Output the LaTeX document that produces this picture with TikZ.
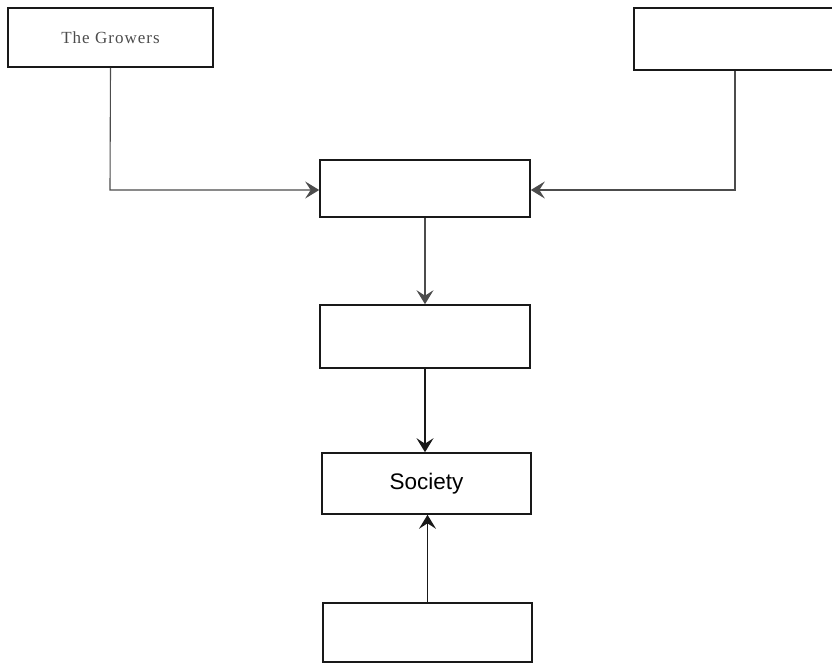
\documentclass[tikz,border=0pt]{standalone}
\usepackage{fontspec}
\setmainfont{Liberation Serif}
\newfontfamily\labelsans{Liberation Sans}
\usetikzlibrary{arrows.meta}
\begin{document}
\begin{tikzpicture}[x=1pt,y=-1pt,
  box/.style={draw=black!90, line width=1.6pt, minimum width=210pt,
    minimum height=58pt, inner sep=0pt},
  flow/.style={draw=black!90, line width=1.4pt,
    -{Stealth[length=14pt,width=17pt,inset=5.5pt]}},
  faint/.style={draw=black!70, line width=1.1pt}]
  \useasboundingbox (0,0) rectangle (832,664);
  \clip (0,0) rectangle (832,664);

  % sources
  \node[box, minimum width=205pt, minimum height=59pt] (growers) at (110.5,37.5)
    {\color{black!70}\fontsize{17}{20}\selectfont\addfontfeatures{LetterSpace=6}The Growers};
  \node[box, minimum width=210pt, minimum height=62pt] (right) at (739,39) {};

  % central chain
  \node[box, minimum height=57pt] (mid)  at (425,188.5) {};
  \node[box, minimum height=63pt] (next) at (425,336.5) {};
  \node[box, minimum width=209pt, minimum height=61pt] (soc) at (426.5,483.5)
    {\labelsans\fontsize{22.5}{26}\selectfont Society};
  \node[box, minimum width=209pt, minimum height=59pt] (base) at (427.5,632.5) {};

  % connectors
  \coordinate (gl) at (110,190);
  \coordinate (rl) at (735,190);
  \draw[flow, faint] (growers.south) -- (gl) -- (mid.west |- gl);
  \draw[flow, faint] (right.south -| rl) -- (rl) -- (mid.east |- rl);
  \draw[flow, faint] (mid.south) -- (next.north);
  \draw[flow] (next.south) -- (next.south |- soc.north);
  \draw[flow] (base.north) -- (base.north |- soc.south);
\end{tikzpicture}
\end{document}
